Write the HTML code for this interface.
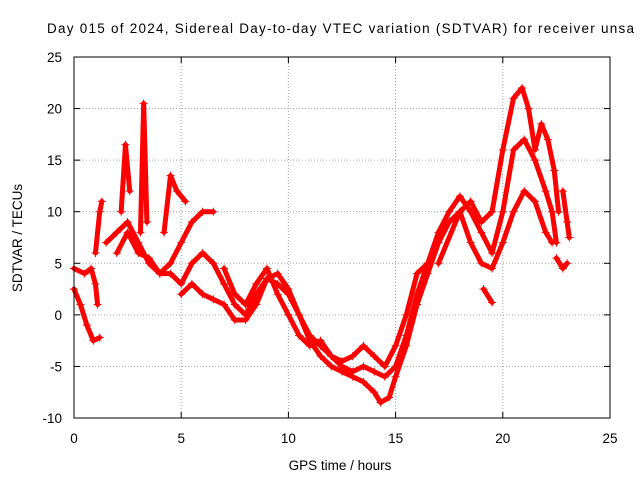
<!DOCTYPE html>
<html><head><meta charset="utf-8"><style>
body{margin:0;background:#fff}
svg text{font-family:"Liberation Sans",sans-serif;font-size:13.5px;fill:#000}
</style></head><body>
<svg id="chart" width="640" height="480" xmlns="http://www.w3.org/2000/svg">
<rect width="640" height="480" fill="#fff"/>
<text x="47" y="33" textLength="587" lengthAdjust="spacing">Day 015 of 2024, Sidereal Day-to-day VTEC variation (SDTVAR) for receiver unsa</text>
<g id="grid"></g>
<g id="series"></g>
<rect x="74" y="57" width="536" height="361" fill="none" stroke="#000" stroke-width="1"/>
<g id="axes"></g>
<text x="340" y="470" text-anchor="middle">GPS time / hours</text>
<text transform="translate(22,238) rotate(-90)" text-anchor="middle">SDTVAR / TECUs</text>
</svg>
<script>
const xTicks=[0,5,10,15,20,25];
const yTicks=[-10,-5,0,5,10,15,20,25];
const trackA=[[0,2.5],[0.3,1],[0.6,-1],[0.9,-2.5],[1.2,-2.2]];
const trackB=[[0,4.5],[0.5,4],[0.8,4.5],[1,3],[1.1,1]];
const trackC=[[1,6],[1.2,10],[1.3,11]];
const trackD=[[1.5,7],[2,8],[2.5,9],[3,7],[3.5,5],[4,4],[4.5,5],[5,7],[5.5,9],[6,10],[6.5,10]];
const trackE=[[2,6],[2.5,8],[3,6],[3.5,5.5],[4,4],[4.5,4],[5,3],[5.5,5],[6,6],[6.5,5],[7,3],[7.5,1],[8,0],[8.5,2],[9,3.5],[9.5,3],[10,2],[10.5,0],[11,-2],[11.5,-3],[12,-4],[12.5,-5],[13,-5.5],[13.5,-5],[14,-5.5],[14.5,-6],[15,-5],[15.5,-2],[16,2],[16.5,5],[17,8],[17.5,10],[18,11.5],[18.5,10],[19,8],[19.5,6],[20,10],[20.5,16],[21,17],[21.5,15],[22,12],[22.3,10],[22.5,7]];
const trackF=[[5,2],[5.5,3],[6,2],[6.5,1.5],[7,1],[7.5,-0.5],[8,-0.5],[8.5,1],[9,3.5],[9.5,4],[10,2.5],[10.5,0],[11,-2.5],[11.5,-4],[12,-5],[12.5,-5.5],[13,-6],[13.5,-6.5],[14,-7.5],[14.3,-8.5],[14.7,-8],[15,-6],[15.5,-3],[16,1],[16.5,4],[17,7],[17.5,9],[18,10],[18.5,7],[19,5],[19.5,4.5],[20,7],[20.5,10],[21,12],[21.5,11],[22,8],[22.3,7]];
const trackG=[[17,5],[18,10],[18.5,11],[19,9],[19.5,10],[20,16],[20.5,21],[20.9,22],[21.2,20],[21.5,16],[21.8,18.5],[22.1,17],[22.4,14],[22.6,10]];
const trackH=[[7,4.5],[7.5,2],[8,1],[8.5,3],[9,4.5],[9.5,2],[10,0],[10.5,-2],[11,-3],[11.5,-2.5],[12,-4],[12.5,-4.5],[13,-4],[13.5,-3],[14,-4],[14.5,-5],[15,-3],[15.5,0],[16,4],[16.5,5]];
const trackI=[[22.8,12],[23,9],[23.1,7.5]];
const trackJ=[[22.5,5.5],[22.8,4.5],[23,5]];
const trackK=[[19.1,2.5],[19.5,1.2]];
const spike1=[[2.2,10],[2.4,16.5],[2.6,12]];
const spike2=[[3.1,8],[3.25,20.5],[3.4,9]];
const spike3=[[4.2,8],[4.5,13.5],[4.8,12],[5.2,11]];
const tracks=[trackA,trackB,trackC,trackD,trackE,trackF,trackG,trackH,trackI,trackJ,trackK,spike1,spike2,spike3];
const NS='http://www.w3.org/2000/svg';
const X0=74,X1=610,Y0=418,Y1=57;
const sx=v=>X0+(v-0)/(25-0)*(X1-X0);
const sy=v=>Y0-(v+10)/(35)*(Y0-Y1);
const grid=document.getElementById('grid'),axes=document.getElementById('axes'),ser=document.getElementById('series');
function mk(tag,attrs,parent){const e=document.createElementNS(NS,tag);for(const k in attrs)e.setAttribute(k,attrs[k]);parent.appendChild(e);return e;}
xTicks.forEach(t=>{const x=sx(t);
 if(t>0&&t<25){const g=mk('line',{x1:x,x2:x,y1:Y0,y2:Y1,stroke:'#a0a0a0','stroke-dasharray':'1,2'},grid);
 
 }
 const tk=mk('line',{x1:x,x2:x,y1:Y0,y2:Y0-6,stroke:'#000'},axes);
 
 
 const tk2=mk('line',{x1:x,x2:x,y1:Y1,y2:Y1+6,stroke:'#000'},axes);
 
 
 const l=mk('text',{x:x,y:Y0+25,'text-anchor':'middle'},axes);l.textContent=t;
 
 });
yTicks.forEach(t=>{const y=sy(t);
 if(t>-10&&t<25){const g=mk('line',{x1:X0,x2:X1,y1:y,y2:y,stroke:'#a0a0a0','stroke-dasharray':'1,2'},grid);
 
 }
 const tk=mk('line',{x1:X0,x2:X0+6,y1:y,y2:y,stroke:'#000'},axes);
 
 
 const tk2=mk('line',{x1:X1,x2:X1-6,y1:y,y2:y,stroke:'#000'},axes);
 
 
 const l=mk('text',{x:X0-12,y:y+5,'text-anchor':'end'},axes);l.textContent=t;
 
 });
tracks.forEach(tr=>{
 const p=mk('polyline',{points:tr.map(d=>sx(d[0])+','+sy(d[1])).join(' '),fill:'none',stroke:'#f00','stroke-width':5,'stroke-linejoin':'round','stroke-linecap':'round'},ser);
 
 
 tr.forEach(d=>{const x=sx(d[0]),y=sy(d[1]);
  const m=mk('path',{d:`M${x-4},${y}h8M${x},${y-4}v8`,stroke:'#f00','stroke-width':1},ser);
  
  });
});
</script>
</body></html>
